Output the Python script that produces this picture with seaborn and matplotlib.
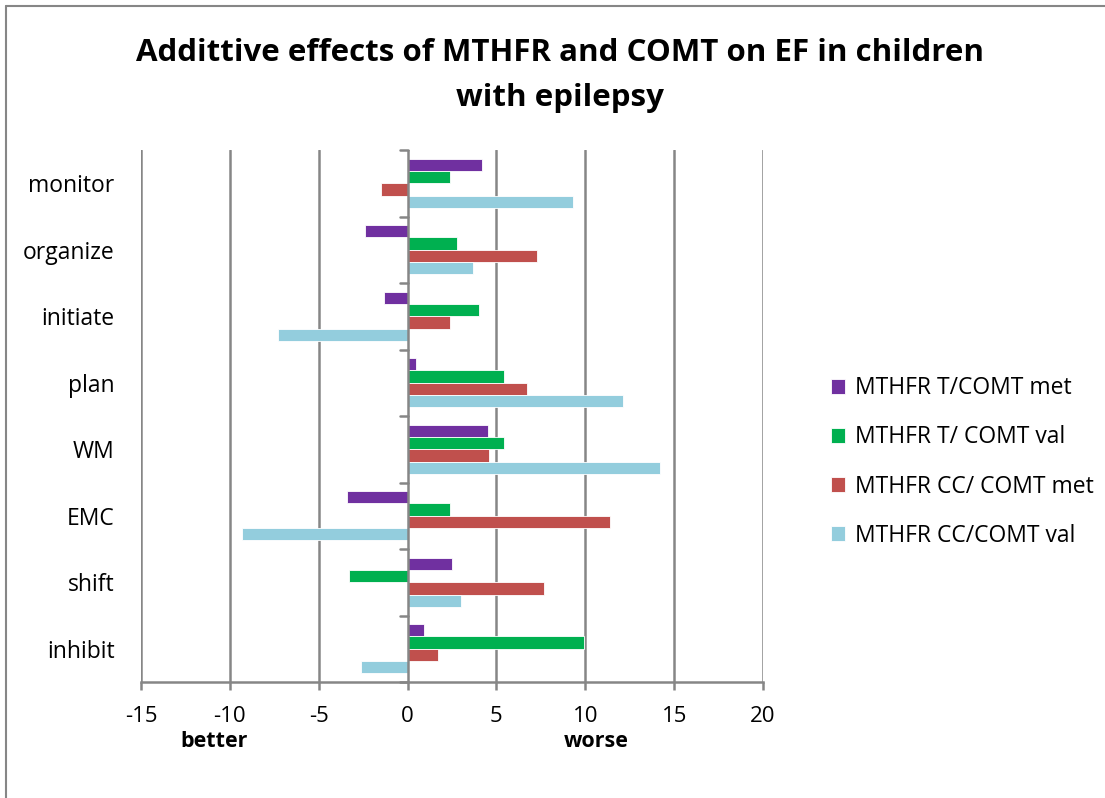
import matplotlib
matplotlib.use("Agg")
import matplotlib.pyplot as plt
import matplotlib.lines as mlines
import pandas as pd
import seaborn as sns

# Executive-function domains (top to bottom)
domains = ["monitor", "organize", "initiate", "plan", "WM", "EMC", "shift", "inhibit"]

# Genotype groups
groups = ["MTHFR T/COMT met", "MTHFR T/ COMT val", "MTHFR CC/ COMT met", "MTHFR CC/COMT val"]

# Effect scores per domain for each genotype group
t_met = [4.2, -2.4, -1.3, 0.5, 4.5, -3.4, 2.5, 0.9]
t_val = [2.4, 2.8, 4.0, 5.4, 5.4, 2.4, -3.3, 9.9]
cc_met = [-1.5, 7.3, 2.4, 6.7, 4.6, 11.4, 7.7, 1.7]
cc_val = [9.3, 3.7, -7.3, 12.1, 14.2, -9.3, 3.0, -2.6]

xticks = [-15, -10, -5, 0, 5, 10, 15, 20]

colors = ["#7030A0", "#00B050", "#C0504D", "#93CDDD"]

df = pd.DataFrame({
    "domain": domains * 4,
    "group": sum([[g] * len(domains) for g in groups], []),
    "score": t_met + t_val + cc_met + cc_val,
})

sns.set_theme(style="white")
plt.rcParams["font.family"] = ["Open Sans", "DejaVu Sans"]
plt.rcParams["text.color"] = "black"

fig = plt.figure(figsize=(11.05, 7.98), dpi=100)
ax = fig.add_axes([141 / 1105, 1 - 682 / 798, (763 - 141) / 1105, (682 - 150) / 798])

sns.barplot(data=df, y="domain", x="score", hue="group", order=domains,
            hue_order=groups, palette=colors, orient="h", width=0.74,
            saturation=1, edgecolor="white", linewidth=0.6, ax=ax)

ax.set_xlim(-15, 20)
ax.set_ylim(len(domains) - 0.5, -0.5)
ax.set_xticks(xticks)
ax.set_xticklabels([str(v) for v in xticks], fontsize=16)
ax.set_xlabel("")
ax.set_ylabel("")

# vertical gridlines
for v in xticks:
    if v != 0:
        ax.axvline(v, color="#868686", lw=1.8, zorder=0)

# category axis drawn at zero with ticks at category boundaries
ax.axvline(0, color="#868686", lw=1.8, zorder=3)
for b in [i - 0.5 for i in range(len(domains) + 1)]:
    ax.plot([-0.45, 0], [b, b], color="#868686", lw=1.8, zorder=3, clip_on=False)

for s in ["top", "right", "left"]:
    ax.spines[s].set_visible(False)
ax.spines["bottom"].set_color("#868686")
ax.spines["bottom"].set_linewidth(1.8)
ax.tick_params(axis="x", bottom=True, length=6, width=1.8, color="#868686", pad=11)
ax.tick_params(axis="y", left=False, length=0, pad=19)
ax.set_yticks(range(len(domains)))
ax.set_yticklabels(domains, fontsize=16.5)
for lab in ax.get_yticklabels() + ax.get_xticklabels():
    lab.set_color("black")

# better / worse annotation under the axis
ax.text(-10.9, -0.112, "better", transform=ax.get_xaxis_transform(),
        ha="center", va="center", fontsize=15.5, fontweight="bold", color="black")
ax.text(10.6, -0.112, "worse", transform=ax.get_xaxis_transform(),
        ha="center", va="center", fontsize=15.5, fontweight="bold", color="black")

# legend
handles, labels = ax.get_legend_handles_labels()
leg = ax.legend(handles, labels, loc="center left", bbox_to_anchor=(810 / 1105, 1 - 462 / 798),
                bbox_transform=fig.transFigure, frameon=False, fontsize=16.5,
                handlelength=0.62, handleheight=0.62, handletextpad=0.45, labelspacing=1.1)
for t in leg.get_texts():
    t.set_color("black")

fig.suptitle("Addittive effects of MTHFR and COMT on EF in children\nwith epilepsy",
             x=560 / 1105, y=1 - 38 / 798, fontsize=22.5, fontweight="bold",
             va="top", linespacing=1.66, color="black")

# chart-area border
fig.add_artist(mlines.Line2D([6 / 1105, 6 / 1105], [0, 1 - 6 / 798], color="#868686", lw=1.5))
fig.add_artist(mlines.Line2D([6 / 1105, 1], [1 - 6 / 798, 1 - 6 / 798], color="#868686", lw=1.5))

fig.savefig("out.png", dpi=100)
